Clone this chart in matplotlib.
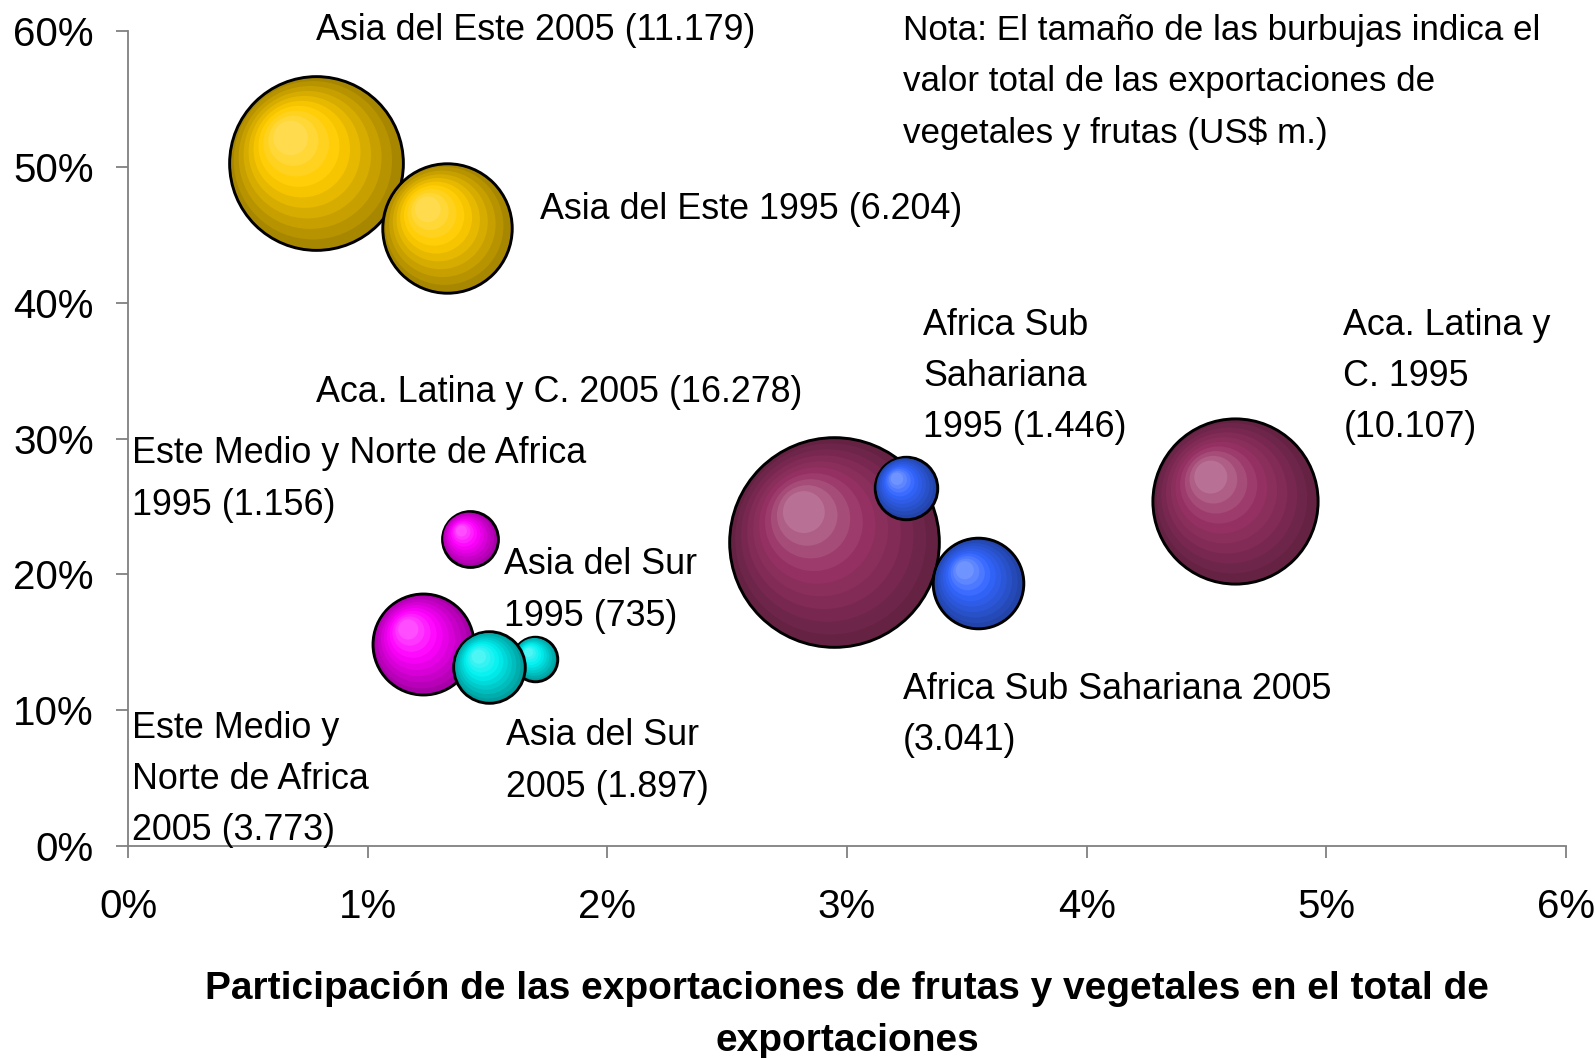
import matplotlib
matplotlib.use("Agg")
import matplotlib.pyplot as plt
import matplotlib.transforms as mtransforms
from matplotlib.colors import to_rgb
import numpy as np

# ---------------- data ----------------
regions = ["Asia del Este 2005", "Asia del Este 1995", "Aca. Latina y C. 2005",
           "Africa Sub Sahariana 1995", "Africa Sub Sahariana 2005", "Aca. Latina y C. 1995",
           "Este Medio y Norte de Africa 2005", "Este Medio y Norte de Africa 1995",
           "Asia del Sur 1995", "Asia del Sur 2005"]
share_fv = [0.783, 1.329, 2.946, 3.246, 3.546, 4.617, 1.230, 1.425, 1.699, 1.507]   # x, %
share_y = [50.28, 45.5, 22.36, 26.37, 19.34, 25.41, 14.87, 22.6, 13.77, 13.18]     # y, %
export_value = [11179, 6204, 16278, 1446, 3041, 10107, 3773, 1156, 735, 1897]     # US$ m.
base_colors = ["#FFCC00", "#FFCC00", "#993366", "#3366FF", "#3366FF", "#993366",
               "#FF00FF", "#FF00FF", "#00F0F0", "#00F0F0"]

labels = ["Asia del Este 2005 (11.179)",
          "Asia del Este 1995 (6.204)",
          "Nota: El tamaño de las burbujas indica el\nvalor total de las exportaciones de\nvegetales y frutas (US$ m.)",
          "Africa Sub\nSahariana\n1995 (1.446)",
          "Aca. Latina y\nC. 1995\n(10.107)",
          "Aca. Latina y C. 2005 (16.278)",
          "Este Medio y Norte de Africa\n1995 (1.156)",
          "Asia del Sur\n1995 (735)",
          "Africa Sub Sahariana 2005\n(3.041)",
          "Este Medio y\nNorte de Africa\n2005 (3.773)",
          "Asia del Sur\n2005 (1.897)"]
label_x = [0.783, 1.717, 3.233, 3.317, 5.071, 0.783, 0.017, 1.569, 3.233, 0.017, 1.577]
label_y = [61.29, 48.18, 61.22, 39.61, 39.61, 34.71, 30.15, 21.98, 12.84, 9.95, 9.39]
label_size = [25.8, 25.8, 25.2, 25.8, 25.8, 25.8, 25.8, 25.8, 25.8, 25.8, 25.8]
label_spacing = [1.6, 1.6, 1.68, 1.6, 1.6, 1.6, 1.6, 1.6, 1.6, 1.6, 1.6]

xticks = [0, 1, 2, 3, 4, 5, 6]
yticks = [0, 10, 20, 30, 40, 50, 60]
xlabel = "Participación de las exportaciones de frutas y vegetales en el total de\nexportaciones"

# ---------------- figure ----------------
W, H, DPI = 1595, 1058, 100
fig = plt.figure(figsize=(W / DPI, H / DPI), dpi=DPI)
ax = fig.add_axes([128 / W, 1 - 846 / H, (1566 - 128) / W, (846 - 31) / H])
ax.set_xlim(0, 6)
ax.set_ylim(0, 60)

SIZE_PER_VALUE = 1.40  # points^2 per US$ m.


def shade(c, t):
    """t in [0,1]: 0 -> dark outer ring, ~0.6 -> base, 1 -> highlight"""
    c = np.array(to_rgb(c))
    dark = c * 0.66
    light = c + (1 - c) * 0.30
    if t < 0.62:
        u = t / 0.62
        return tuple(dark + (c - dark) * u)
    u = (t - 0.62) / 0.38
    return tuple(c + (light - c) * u)


n_layers = 10
for idx in range(len(regions)):
    x, y, v, col = share_fv[idx], share_y[idx], export_value[idx], base_colors[idx]
    s_full = SIZE_PER_VALUE * v
    r_pt = np.sqrt(s_full) / 2
    z = 3 + idx
    for i in range(n_layers):
        t = i / (n_layers - 1)
        f = 1 - 0.8 * t
        off = (1 - f) * r_pt * 0.36
        tr = mtransforms.offset_copy(ax.transData, fig=fig, x=-off, y=off, units="points")
        ax.scatter([x], [y], s=s_full * f * f, color=shade(col, t),
                   edgecolors="black" if i == 0 else "none",
                   linewidths=2.1 if i == 0 else 0,
                   transform=tr, zorder=z + i * 0.01, clip_on=False)

for txt, lx, ly, fs, ls in zip(labels, label_x, label_y, label_size, label_spacing):
    ax.text(lx, ly, txt, fontsize=fs, family=["Liberation Sans"], ha="left", va="top",
            linespacing=ls, zorder=30, clip_on=False)

# axes styling
for sp in ["top", "right"]:
    ax.spines[sp].set_visible(False)
for sp in ["left", "bottom"]:
    ax.spines[sp].set_color("#808080")
    ax.spines[sp].set_linewidth(1.3)
ax.set_xticks(xticks)
ax.set_yticks(yticks)
ax.set_xticklabels([f"{t}%" for t in xticks], family="Liberation Sans", fontsize=29)
ax.set_yticklabels([f"{t}%" for t in yticks], family="Liberation Sans", fontsize=29)
ax.tick_params(axis="both", direction="out", length=8.6, width=1.3, color="#808080")
ax.tick_params(axis="x", pad=22)
ax.tick_params(axis="y", pad=16)
ax.set_xlabel(xlabel, family=["Liberation Sans Narrow", "Liberation Sans"], fontweight="bold",
              fontsize=28, linespacing=1.58, labelpad=32)

fig.savefig("out.png", dpi=DPI)
